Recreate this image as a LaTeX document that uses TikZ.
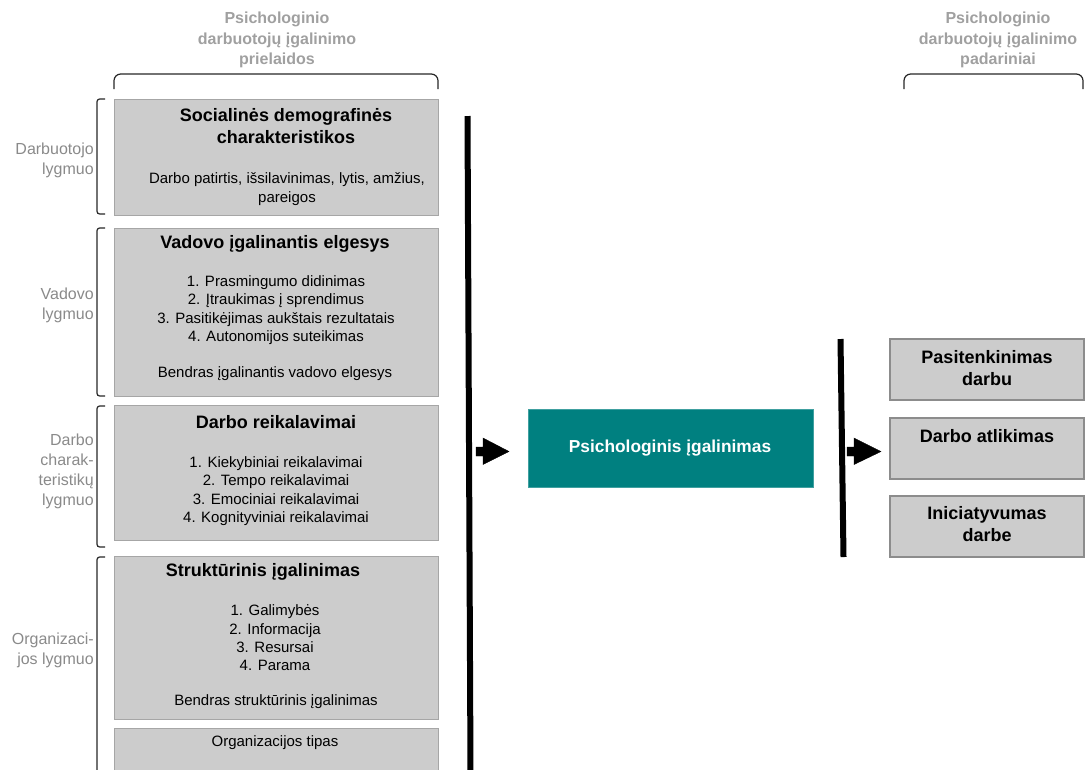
\documentclass[tikz,border=0pt]{standalone}
\usepackage{fontspec}
\setmainfont{Liberation Sans}
\definecolor{boxfill}{HTML}{CCCCCC}
\definecolor{boxline}{HTML}{A6A6A6}
\definecolor{rboxline}{HTML}{8C8C8C}
\definecolor{tealfill}{HTML}{008080}
\definecolor{hdrgray}{HTML}{A0A0A0}
\definecolor{lvlgray}{HTML}{8A8A8A}
\tikzset{
  gbox/.style={draw=boxline, fill=boxfill, line width=0.75pt, inner sep=0pt, outer sep=0pt, anchor=north west},
  rbox/.style={gbox, draw=rboxline, line width=1pt, minimum width=145.5pt, minimum height=45.75pt},
  ttl/.style={font=\fontsize{13.5}{16.5}\selectfont\bfseries, align=center, inner sep=0pt},
  txt/.style={font=\fontsize{11.25}{13.75}\selectfont, align=center, inner sep=0pt},
  lvl/.style={font=\fontsize{12}{15}\selectfont, text=lvlgray, align=right, anchor=east, inner sep=0pt},
  hdr/.style={font=\fontsize{12}{15.5}\selectfont\bfseries, text=hdrgray, align=center, inner sep=0pt},
  bar/.style={line width=4.5pt, black},
  brk/.style={line width=0.9pt, black!85, rounded corners=2pt},
  topbrace/.style={line width=0.9pt, black!85, rounded corners=5pt},
  blockarrow/.style={fill=black, draw=black, line width=0.3pt, line join=miter}
}
\begin{document}
\begin{tikzpicture}[x=0.75pt, y=-0.75pt]
\useasboundingbox (0,0) rectangle (1088,769);
\clip (0,0) rectangle (1088,769);

% column headers and their braces
\node[hdr] (hl) at (277,40) {Psichologinio\\darbuotojų įgalinimo\\prielaidos};
\node[hdr] (hr) at (998,40) {Psichologinio\\darbuotojų įgalinimo\\padariniai};
\draw[topbrace] (114,89) -- (114,74) -- (438,74) -- (438,89);
\draw[topbrace] (904,89) -- (904,74) -- (1083,74) -- (1083,89);

% antecedent boxes
\node[gbox, minimum width=243pt, minimum height=87pt] (b1) at (114,99) {};
\node[ttl] (b1t) at (286,126) {Socialinės demografinės\\charakteristikos};
\node[txt] (b1x) at (287,189) {Darbo patirtis, išsilavinimas, lytis, amžius,\\pareigos};

\node[gbox, minimum width=243pt, minimum height=126pt] (b2) at (114,228) {};
\node[ttl] (b2t) at (275,244) {Vadovo įgalinantis elgesys};
\node[txt] (b2x) at (276,310) {1. Prasmingumo didinimas\\2. Įtraukimas į sprendimus\\3. Pasitikėjimas aukštais rezultatais\\4. Autonomijos suteikimas};
\node[txt] (b2y) at (275,374) {Bendras įgalinantis vadovo elgesys};

\node[gbox, minimum width=243pt, minimum height=101.25pt] (b3) at (114,405) {};
\node[ttl] (b3t) at (276,422) {Darbo reikalavimai};
\node[txt] (b3x) at (276,491) {1. Kiekybiniai reikalavimai\\2. Tempo reikalavimai\\3. Emociniai reikalavimai\\4. Kognityviniai reikalavimai};

\node[gbox, minimum width=243pt, minimum height=122.25pt] (b4) at (114,556) {};
\node[ttl] (b4t) at (263,572) {Struktūrinis įgalinimas};
\node[txt] (b4x) at (275,638) {1. Galimybės\\2. Informacija\\3. Resursai\\4. Parama};
\node[txt] (b4y) at (276,702) {Bendras struktūrinis įgalinimas};

\node[gbox, minimum width=243pt, minimum height=50pt] (b5) at (114,728) {};
\node[txt] (b5x) at (275,743) {Organizacijos tipas};

% level brackets and labels
\draw[brk] (105,99) -- (97,99) -- (97,214) -- (105,214);
\draw[brk] (105,228) -- (97,228) -- (97,396) -- (105,396);
\draw[brk] (105,406) -- (97,406) -- (97,547) -- (105,547);
\draw[brk] (105,557) -- (97,557) -- (97,790);
\node[lvl] (l1) at (94,160) {Darbuotojo\\lygmuo};
\node[lvl] (l2) at (94,305) {Vadovo\\lygmuo};
\node[lvl] (l3) at (94,471) {Darbo\\charak-\\teristikų\\lygmuo};
\node[lvl] (l4) at (94,650) {Organizaci-\\jos lygmuo};

% vertical bars
\coordinate (bar1top) at (467.5,116);
\coordinate (bar1bot) at (470.5,772);
\coordinate (bar2top) at (840.5,339);
\coordinate (bar2bot) at (843.5,557);
\draw[bar] (bar1top) -- (bar1bot);
\draw[bar] (bar2top) -- (bar2bot);

% mediator
\node[fill=tealfill, draw=tealfill!75!white, line width=0.5pt, inner sep=0pt, outer sep=0pt, anchor=north west,
      minimum width=213.75pt, minimum height=58.5pt] (pe) at (528,409) {};
\node[font=\fontsize{13}{15}\selectfont\bfseries, text=white, inner sep=0pt] (pet) at (670,448) {Psichologinis įgalinimas};

% block arrows
\coordinate (a1) at (476,451.5);
\draw[blockarrow] (a1) ++(0,-4.5) -- ++(7,0) -- ++(0,-9) -- (509,451.5) -- (483,464.5) -- ++(0,-8.5) -- (476,456) -- cycle;
\coordinate (a2) at (847,451.5);
\draw[blockarrow] (a2) ++(0,-4.5) -- ++(7,0) -- ++(0,-9) -- (881,451.5) -- (854,464.5) -- ++(0,-8.5) -- (847,456) -- cycle;

% outcome boxes
\node[rbox] (o1) at (890,339) {};
\node[ttl] (o1t) at (987,368) {Pasitenkinimas\\darbu};
\node[rbox] (o2) at (890,418) {};
\node[ttl] (o2t) at (987,436) {Darbo atlikimas};
\node[rbox] (o3) at (890,496) {};
\node[ttl] (o3t) at (987,524) {Iniciatyvumas\\darbe};
\end{tikzpicture}
\end{document}
